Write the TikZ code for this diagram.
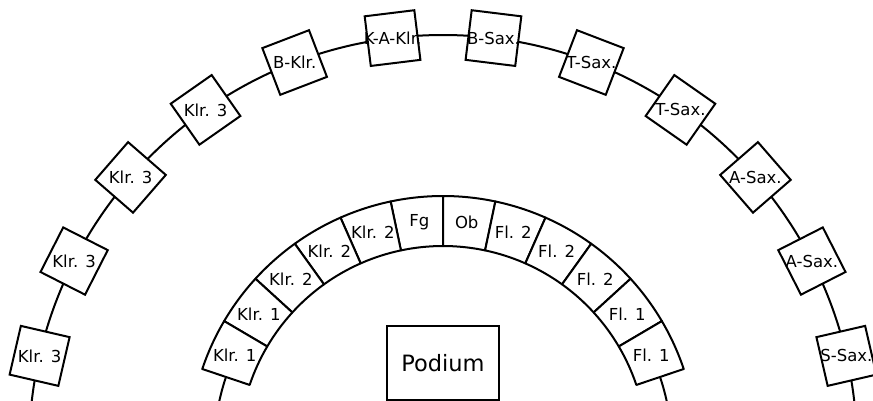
\documentclass[tikz,border=0pt]{standalone}
\usepackage{fontspec}
\setmainfont{DejaVu Sans}
\usetikzlibrary{calc}
\tikzset{
  ring/.style={line width=2pt},
  obox/.style={draw, line width=2pt, fill=white, shape=rectangle, minimum size=50pt, inner sep=0pt},
  lbl/.style={font=\fontsize{16.5}{18}\selectfont, inner sep=0pt},
  seg/.style={draw, line width=2pt, fill=white, line join=round},
  podbox/.style={draw, line width=2pt, minimum width=112pt, minimum height=74pt, inner sep=0pt, font=\fontsize{22.5}{25}\selectfont}
}
\begin{document}
\begin{tikzpicture}[x=1pt,y=1pt]
\useasboundingbox (0,0) rectangle (873,-400);
\clip (0,0) rectangle (873,-400);
\fill[white] (0,0) rectangle (873,-400);
\coordinate (C) at (443,-449);
\coordinate (D) at (443,-450);
% outer ring
\draw[ring] (C) circle[radius=414pt];
\foreach \a/\t [count=\k] in {97/K-A-Klr., 111/B-Klr., 125/{Klr. 3}, 139/{Klr. 3}, 153/{Klr. 3}, 167/{Klr. 3},
  83/B-Sax., 69/T-Sax., 55/T-Sax., 41/A-Sax., 27/A-Sax., 13/S-Sax.} {
  \node[obox, rotate=\a-90] (o\k) at ($(C)+(\a:414pt)$) {};
  \node[lbl] (ot\k) at (o\k.center) {\t};
}
% inner ring
\def\dd{11.9}
\draw[ring] ($(D)+(90+6*\dd:229pt)$) arc[start angle=90+6*\dd, end angle=200, radius=229pt];
\draw[ring] ($(D)+(90-6*\dd:229pt)$) arc[start angle=90-6*\dd, end angle=-20, radius=229pt];
\foreach \t [count=\i from 0] in {Fg, Klr. 2, Klr. 2, Klr. 2, Klr. 1, Klr. 1} {
  \pgfmathsetmacro\aa{90+\i*\dd}
  \pgfmathsetmacro\ab{90+(\i+1)*\dd}
  \pgfmathsetmacro\am{90+(\i+0.5)*\dd}
  \draw[seg] ($(D)+(\aa:204pt)$) arc[start angle=\aa, end angle=\ab, radius=204pt]
     -- ($(D)+(\ab:254pt)$) arc[start angle=\ab, end angle=\aa, radius=254pt] -- cycle;
  \node[lbl] (l\i) at ($(D)+(\am:229pt)$) {\t};
}
\foreach \t [count=\i from 0] in {Ob, Fl. 2, Fl. 2, Fl. 2, Fl. 1, Fl. 1} {
  \pgfmathsetmacro\aa{90-\i*\dd}
  \pgfmathsetmacro\ab{90-(\i+1)*\dd}
  \pgfmathsetmacro\am{90-(\i+0.5)*\dd}
  \draw[seg] ($(D)+(\aa:204pt)$) arc[start angle=\aa, end angle=\ab, radius=204pt]
     -- ($(D)+(\ab:254pt)$) arc[start angle=\ab, end angle=\aa, radius=254pt] -- cycle;
  \node[lbl] (r\i) at ($(D)+(\am:229pt)$) {\t};
}
% podium
\node[podbox] (pod) at (443,-363) {Podium};
\end{tikzpicture}
\end{document}
